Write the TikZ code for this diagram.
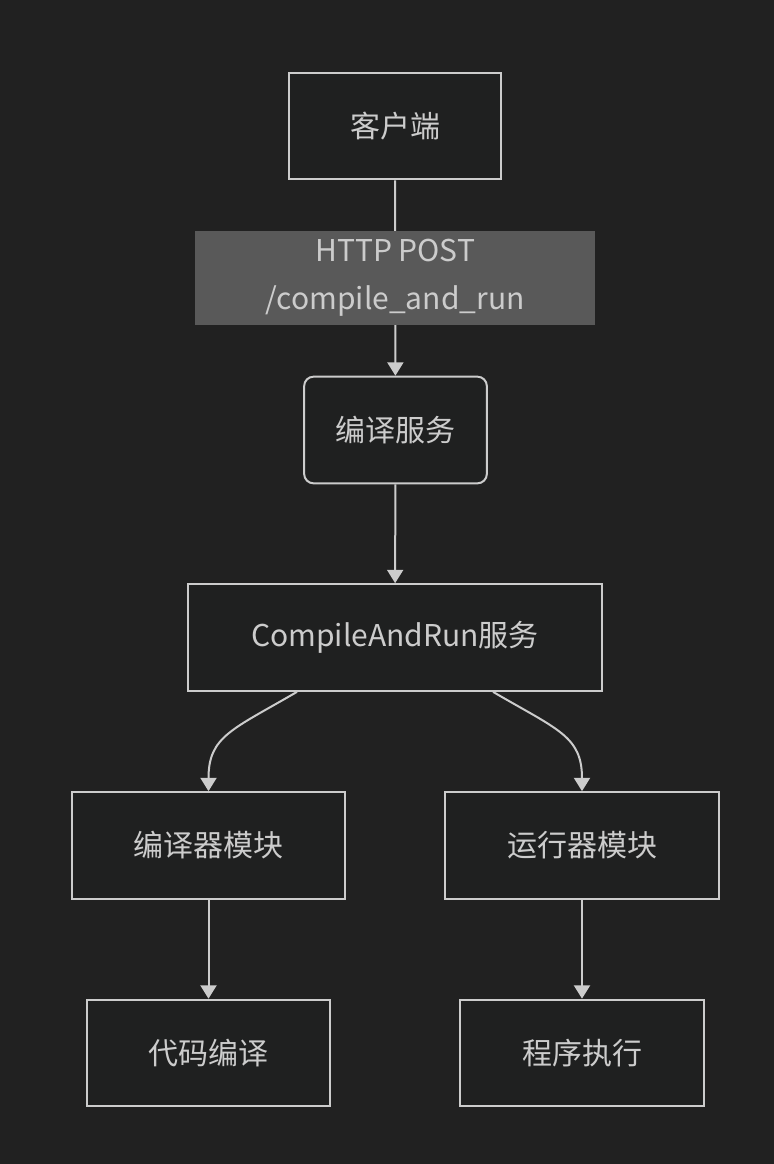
\documentclass[tikz,border=0pt]{standalone}
\usepackage{fontspec}
\setmainfont{Noto Sans CJK SC}
\usetikzlibrary{arrows.meta}
\definecolor{bgcol}{HTML}{212121}
\definecolor{boxcol}{HTML}{1F2020}
\definecolor{linecol}{HTML}{CCCCCC}
\definecolor{labelcol}{HTML}{595959}
\begin{document}
\begin{tikzpicture}[x=0.75pt, y=-0.75pt, font=\fontsize{22.5pt}{30pt}\selectfont,
	box/.style={draw=linecol, line width=1.5pt, fill=boxcol, text=linecol, inner sep=0pt, minimum height=80pt},
	edge/.style={draw=linecol, line width=1.5pt, -{Triangle[width=12pt, length=10pt]}}]
	%background
	\fill[bgcol] (0,0) rectangle (774,1164);
	\useasboundingbox (0,0) rectangle (774,1164);
	%nodes
	\node[box, minimum width=159pt] (client) at (395,126) {客户端};
	\node[box, rounded corners=7pt, minimum width=137pt] (svc) at (395.5,430) {编译服务};
	\node[box, minimum width=311pt] (car) at (395,637.5) {CompileAndRun服务};
	\node[box, minimum width=205pt] (cmod) at (208.5,845.5) {编译器模块};
	\node[box, minimum width=205pt] (rmod) at (582,845.5) {运行器模块};
	\node[box, minimum width=182pt] (comp) at (208.5,1053) {代码编译};
	\node[box, minimum width=183pt] (exec) at (582,1053) {程序执行};
	%edges
	\draw[edge] (client) -- node[fill=labelcol, text=linecol, minimum width=300pt, minimum height=71pt, inner sep=0pt, align=center, font=\fontsize{22.5pt}{36pt}\selectfont] (post) {HTTP POST\\/compile\_and\_run} (svc);
	\draw[edge] (svc) -- (car);
	\draw[edge] ([xshift=-73.5pt]car.south) .. controls +(-65,38) and +(0,-55) .. (cmod.north);
	\draw[edge] ([xshift=73.5pt]car.south) .. controls +(65,38) and +(0,-55) .. (rmod.north);
	\draw[edge] (cmod) -- (comp);
	\draw[edge] (rmod) -- (exec);
\end{tikzpicture}
\end{document}
